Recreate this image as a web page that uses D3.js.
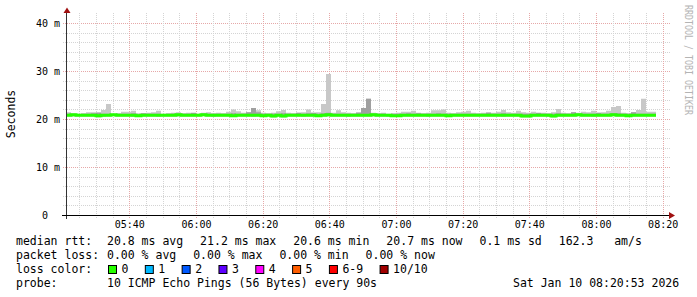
<!DOCTYPE html>
<html>
<head>
<meta charset="utf-8">
<script src="https://cdnjs.cloudflare.com/ajax/libs/d3/7.8.5/d3.min.js"></script>
<style>
  body { margin: 0; background: #fff; }
  svg { display: block; }
  text { font-family: "DejaVu Sans Mono", monospace; fill: #000; white-space: pre; }
</style>
</head>
<body>
<svg id="chart" width="697" height="297"></svg>
<script>
// rrd step is 90s, first step starts 05:21:00
const stepSeconds = 90;
const firstStep = new Date(2026, 0, 10, 5, 21, 0);
const viewStart = new Date(2026, 0, 10, 5, 21, 18);
const viewEnd = new Date(2026, 0, 10, 8, 21, 18);

// values in ms
const rttMedian = [
  20.8, 20.9, 20.8, 20.8, 20.8, 20.8, 20.7, 20.8, 20.8, 20.9,
  20.8, 20.8, 20.8, 20.8, 20.7, 20.8, 20.8, 20.8, 20.8, 20.8,
  20.8, 20.8, 20.9, 20.8, 20.8, 20.8, 20.8, 20.9, 20.8, 20.8,
  20.8, 20.8, 20.8, 20.7, 20.8, 20.8, 20.8, 20.8, 20.8, 20.7,
  20.8, 20.6, 20.8, 20.6, 20.8, 20.8, 20.8, 20.8, 20.8, 20.8,
  20.7, 20.8, 20.9, 20.8, 20.8, 20.8, 20.8, 20.8, 20.8, 20.8,
  20.8, 20.9, 20.8, 20.8, 20.8, 20.7, 20.7, 20.8, 20.8, 20.8,
  20.8, 20.8, 20.8, 20.8, 20.8, 20.8, 20.7, 20.8, 20.8, 20.8,
  20.8, 20.8, 20.8, 20.8, 20.8, 20.8, 20.8, 20.8, 20.8, 20.8,
  20.8, 20.6, 20.6, 20.8, 20.8, 20.8, 20.8, 20.6, 20.8, 20.8,
  20.8, 20.8, 20.9, 20.8, 20.8, 20.8, 20.8, 20.8, 20.8, 20.9,
  20.8, 20.8, 20.7, 20.8, 20.8, 20.8, 20.8, 20.8
];
const rttMax = [
  21.4, 21.2, 21.1, 21.2, 21.4, 21.4, 21.4, 21.9, 23.1, 21.1,
  21.2, 21.5, 21.5, 21.7, 21.2, 21.2, 21.3, 21.4, 21.7, 21.1,
  21.2, 21.3, 21.4, 21.2, 21.3, 21.2, 21.1, 21.3, 21.4, 21.2,
  21.3, 21.2, 21.5, 22.0, 21.6, 21.3, 21.4, 22.3, 21.8, 21.3,
  21.2, 21.3, 21.6, 21.9, 21.3, 21.2, 21.3, 21.4, 22.0, 21.3,
  21.4, 23.1, 29.4, 21.3, 21.8, 21.4, 21.3, 21.2, 21.4, 22.3,
  24.2, 21.3, 21.2, 21.3, 21.1, 21.2, 21.3, 21.5, 21.5, 21.7,
  21.3, 21.2, 21.3, 21.8, 21.8, 22.0, 21.3, 21.2, 21.4, 21.5,
  21.7, 21.3, 21.2, 21.3, 21.4, 21.3, 21.5, 21.9, 21.4, 21.3,
  21.7, 21.4, 21.3, 21.5, 21.2, 21.3, 21.2, 21.4, 22.1, 21.3,
  21.2, 21.4, 21.3, 21.5, 21.4, 21.7, 21.3, 21.4, 21.7, 22.5,
  22.7, 21.3, 21.2, 21.4, 21.9, 24.2, 21.5, 21.5
];
const rttHi2 = [
  21.1, 21.0, 21.0, 21.1, 21.1, 21.2, 21.3, 21.1, 21.1, 21.0,
  21.1, 21.1, 21.1, 21.2, 21.0, 21.2, 21.1, 21.1, 21.1, 21.0,
  21.1, 21.1, 21.1, 21.1, 21.1, 21.3, 21.0, 21.1, 21.1, 21.1,
  21.1, 21.1, 21.1, 21.2, 21.1, 21.1, 21.4, 22.3, 21.4, 21.1,
  21.1, 21.1, 21.1, 21.2, 21.1, 21.1, 21.3, 21.1, 21.2, 21.3,
  21.1, 21.2, 21.3, 21.1, 21.1, 21.1, 21.1, 21.1, 21.3, 22.3,
  24.2, 21.1, 21.1, 21.1, 21.0, 21.1, 21.1, 21.1, 21.2, 21.1,
  21.2, 21.1, 21.1, 21.1, 21.2, 21.1, 21.1, 21.1, 21.1, 21.1,
  21.1, 21.1, 21.1, 21.1, 21.3, 21.1, 21.1, 21.2, 21.1, 21.1,
  21.1, 21.1, 21.1, 21.1, 21.3, 21.1, 21.1, 21.1, 21.2, 21.1,
  21.1, 21.4, 21.1, 21.1, 21.1, 21.1, 21.3, 21.1, 21.1, 21.2,
  21.2, 21.1, 21.1, 21.4, 21.1, 21.1, 21.1, 21.1
];
const rttLo2 = [
  20.6, 20.7, 20.6, 20.6, 20.6, 20.6, 20.5, 20.6, 20.6, 20.7,
  20.6, 20.6, 20.6, 20.6, 20.5, 20.6, 20.6, 20.6, 20.6, 20.6,
  20.6, 20.6, 20.7, 20.6, 20.6, 20.6, 20.6, 20.7, 20.6, 20.6,
  20.6, 20.6, 20.6, 20.5, 20.6, 20.6, 20.6, 20.6, 20.6, 20.5,
  20.6, 20.4, 20.6, 20.4, 20.6, 20.6, 20.6, 20.6, 20.6, 20.6,
  20.5, 20.6, 20.7, 20.6, 20.6, 20.6, 20.6, 20.6, 20.6, 20.6,
  20.6, 20.7, 20.6, 20.6, 20.6, 20.5, 20.5, 20.6, 20.6, 20.6,
  20.6, 20.6, 20.6, 20.6, 20.6, 20.6, 20.5, 20.6, 20.6, 20.6,
  20.6, 20.6, 20.6, 20.6, 20.6, 20.6, 20.6, 20.6, 20.6, 20.6,
  20.6, 20.4, 20.4, 20.6, 20.6, 20.6, 20.6, 20.4, 20.6, 20.6,
  20.6, 20.6, 20.7, 20.6, 20.6, 20.6, 20.6, 20.6, 20.6, 20.7,
  20.6, 20.6, 20.5, 20.6, 20.6, 20.6, 20.6, 20.6
];
const rttMin = [
  20.5, 20.5, 20.5, 20.5, 20.5, 20.5, 20.3, 20.4, 20.5, 20.6,
  20.5, 20.5, 20.5, 20.4, 20.4, 20.5, 20.5, 20.5, 20.4, 20.5,
  20.5, 20.5, 20.5, 20.5, 20.5, 20.5, 20.5, 20.6, 20.5, 20.4,
  20.5, 20.5, 20.5, 20.4, 20.5, 20.5, 20.5, 20.4, 20.5, 20.4,
  20.5, 20.3, 20.5, 20.3, 20.5, 20.5, 20.5, 20.4, 20.5, 20.5,
  20.4, 20.5, 20.5, 20.5, 20.5, 20.5, 20.4, 20.5, 20.5, 20.5,
  20.5, 20.5, 20.5, 20.5, 20.4, 20.4, 20.4, 20.5, 20.5, 20.5,
  20.5, 20.5, 20.4, 20.5, 20.5, 20.5, 20.4, 20.5, 20.5, 20.5,
  20.5, 20.5, 20.5, 20.5, 20.5, 20.5, 20.5, 20.4, 20.5, 20.5,
  20.5, 20.3, 20.3, 20.5, 20.5, 20.5, 20.4, 20.3, 20.5, 20.5,
  20.5, 20.5, 20.6, 20.5, 20.5, 20.4, 20.5, 20.5, 20.5, 20.6,
  20.5, 20.5, 20.4, 20.5, 20.5, 20.5, 20.5, 20.5
];

const yTicks = [0, 10, 20, 30, 40];
const yMinorStep = 2;
const rttStats = ['20.8 ms avg', '21.2 ms max', '20.6 ms min', '20.7 ms now', '0.1 ms sd', '162.3   am/s'];
const lossStats = ['0.00 % avg', '0.00 % max', '0.00 % min', '0.00 % now'];
const lossLabels = ['0', '1', '2', '3', '4', '5', '6-9', '10/10'];
const lossColors = ['#26ff00', '#00b8ff', '#0059ff', '#5e00ff', '#ff00ff', '#ff5e00', '#ff0000', '#a10000'];
const probeText = '10 ICMP Echo Pings (56 Bytes) every 90s';
const stampText = 'Sat Jan 10 08:20:53 2026';

const svg = d3.select('#chart');
const plotLeft = 67, plotRight = 667, plotTop = 15, plotBottom = 215;

const xScale = d3.scaleTime().domain([viewStart, viewEnd]).range([plotLeft, plotRight]);
const yScale = d3.scaleLinear().domain([0, 41.6667]).range([plotBottom, plotTop]);

// grid
const grid = svg.append('g');
const minorY = d3.range(0, 41, yMinorStep).filter(v => v % 10 !== 0);
grid.selectAll('.hmin').data(minorY).enter().append('line')
    .attr('x1', 63).attr('x2', 670)
    .attr('y1', d => Math.round(yScale(d)) + 0.5)
    .attr('y2', d => Math.round(yScale(d)) + 0.5)
    .attr('stroke', '#d4d4d4').attr('stroke-dasharray', '1,1');
grid.selectAll('.hmaj').data(yTicks.slice(1)).enter().append('line')
    .attr('x1', 63).attr('x2', 670)
    .attr('y1', d => Math.round(yScale(d)) + 0.5)
    .attr('y2', d => Math.round(yScale(d)) + 0.5)
    .attr('stroke', '#e6a8a8').attr('stroke-dasharray', '1,1');

const minorX = d3.timeMinute.every(5).range(viewStart, viewEnd).filter(d => d.getMinutes() % 20 !== 0);
const majorX = d3.timeMinute.every(20).range(viewStart, viewEnd);
grid.selectAll('.vmin').data(minorX).enter().append('line')
    .attr('x1', d => Math.round(xScale(d)) + 0.5)
    .attr('x2', d => Math.round(xScale(d)) + 0.5)
    .attr('y1', 13).attr('y2', 219)
    .attr('stroke', '#d4d4d4').attr('stroke-dasharray', '1,1');
grid.selectAll('.vmaj').data(majorX).enter().append('line')
    .attr('x1', d => Math.round(xScale(d)) + 0.5)
    .attr('x2', d => Math.round(xScale(d)) + 0.5)
    .attr('y1', 13).attr('y2', 219)
    .attr('stroke', '#e6a8a8').attr('stroke-dasharray', '1,1');

// smoke + median
const steps = rttMedian.map((m, i) => ({
  t: new Date(firstStep.getTime() + i * stepSeconds * 1000),
  med: m, max: rttMax[i], hi2: rttHi2[i], lo2: rttLo2[i], min: rttMin[i],
}));
const lastStep = steps[steps.length - 1];
steps.push(Object.assign({}, lastStep, {
  t: new Date(lastStep.t.getTime() + stepSeconds * 1000),
}));

svg.append('clipPath').attr('id', 'plot')
  .append('rect').attr('x', plotLeft).attr('y', plotTop - 2)
  .attr('width', plotRight - plotLeft).attr('height', plotBottom - plotTop + 2);

const plot = svg.append('g').attr('clip-path', 'url(#plot)');

const band = (lo, hi) => d3.area()
    .curve(d3.curveStepAfter)
    .x(d => xScale(d.t))
    .y0(d => yScale(d[lo]))
    .y1(d => yScale(d[hi]));

plot.append('path').datum(steps).attr('d', band('min', 'max')).attr('fill', '#c8c8c8');
plot.append('path').datum(steps).attr('d', band('lo2', 'hi2')).attr('fill', '#a0a0a0');

plot.append('path').datum(steps)
    .attr('d', d3.line().curve(d3.curveStepAfter).x(d => xScale(d.t)).y(d => yScale(d.med)))
    .attr('fill', 'none')
    .attr('stroke', lossColors[0])
    .attr('stroke-width', 3);

// axes
svg.append('line').attr('x1', plotLeft - 0.5).attr('x2', plotLeft - 0.5)
    .attr('y1', plotBottom + 4).attr('y2', 12)
    .attr('stroke', '#333');
svg.append('line').attr('x1', 62).attr('x2', 670)
    .attr('y1', plotBottom + 0.5).attr('y2', plotBottom + 0.5)
    .attr('stroke', '#000');
svg.append('path').attr('d', 'M63.5,13 L70.5,13 L67,7.5 Z').attr('fill', '#a01010');
svg.append('path').attr('d', 'M669,212 L669,219 L675,215.5 Z').attr('fill', '#a01010');

// y labels
svg.selectAll('.ylab').data(yTicks).enter().append('text')
    .attr('x', d => d === 0 ? 48 : 60)
    .attr('y', d => yScale(d) + 4)
    .attr('text-anchor', 'end')
    .style('font-size', '10px')
    .text(d => d === 0 ? '0' : d + ' m');

// x labels
const fmt = d3.timeFormat('%H:%M');
svg.selectAll('.xlab').data(majorX).enter().append('text')
    .attr('x', d => xScale(d) + 0.5)
    .attr('y', 228)
    .attr('text-anchor', 'middle')
    .style('font-size', '10px')
    .text(d => fmt(d));

svg.append('text')
    .attr('transform', 'translate(15,114) rotate(-90)')
    .attr('text-anchor', 'middle')
    .style('font-size', '11.5px')
    .text('Seconds');

svg.append('text')
    .attr('transform', 'translate(685,5) rotate(90)')
    .attr('textLength', 110)
    .attr('lengthAdjust', 'spacingAndGlyphs')
    .style('font-size', '10px')
    .style('fill', '#b4b4b4')
    .text('RRDTOOL / TOBI OETIKER');

// legend: items separated by a fixed gap, like rrdtool
const legend = svg.append('g').style('font-size', '11.5px');
const rowY = [245, 259, 273, 287];
const charW = 6.92, itemGap = 17, valueX = 107;

const statRow = (label, items, y) => {
  legend.append('text').attr('x', 16).attr('y', y).text(label);
  let x = valueX;
  items.forEach((s) => {
    legend.append('text').attr('x', x).attr('y', y).text(s);
    x += s.length * charW + itemGap;
  });
};
statRow('median rtt:', rttStats, rowY[0]);
statRow('packet loss:', lossStats, rowY[1]);

legend.append('text').attr('x', 16).attr('y', rowY[2]).text('loss color:');
let bx = 108;
lossLabels.forEach((lab, i) => {
  legend.append('rect')
      .attr('x', bx + 0.5).attr('y', rowY[2] - 7.5)
      .attr('width', 8).attr('height', 8)
      .attr('fill', lossColors[i]).attr('stroke', '#000').attr('stroke-width', 1);
  legend.append('text').attr('x', bx + 13.5).attr('y', rowY[2]).text(lab);
  bx += 13.5 + lab.length * charW + 16.4;
});

legend.append('text').attr('x', 16).attr('y', rowY[3]).text('probe:');
legend.append('text').attr('x', valueX).attr('y', rowY[3]).text(probeText);
legend.append('text').attr('x', 513).attr('y', rowY[3]).text(stampText);
</script>
</body>
</html>
